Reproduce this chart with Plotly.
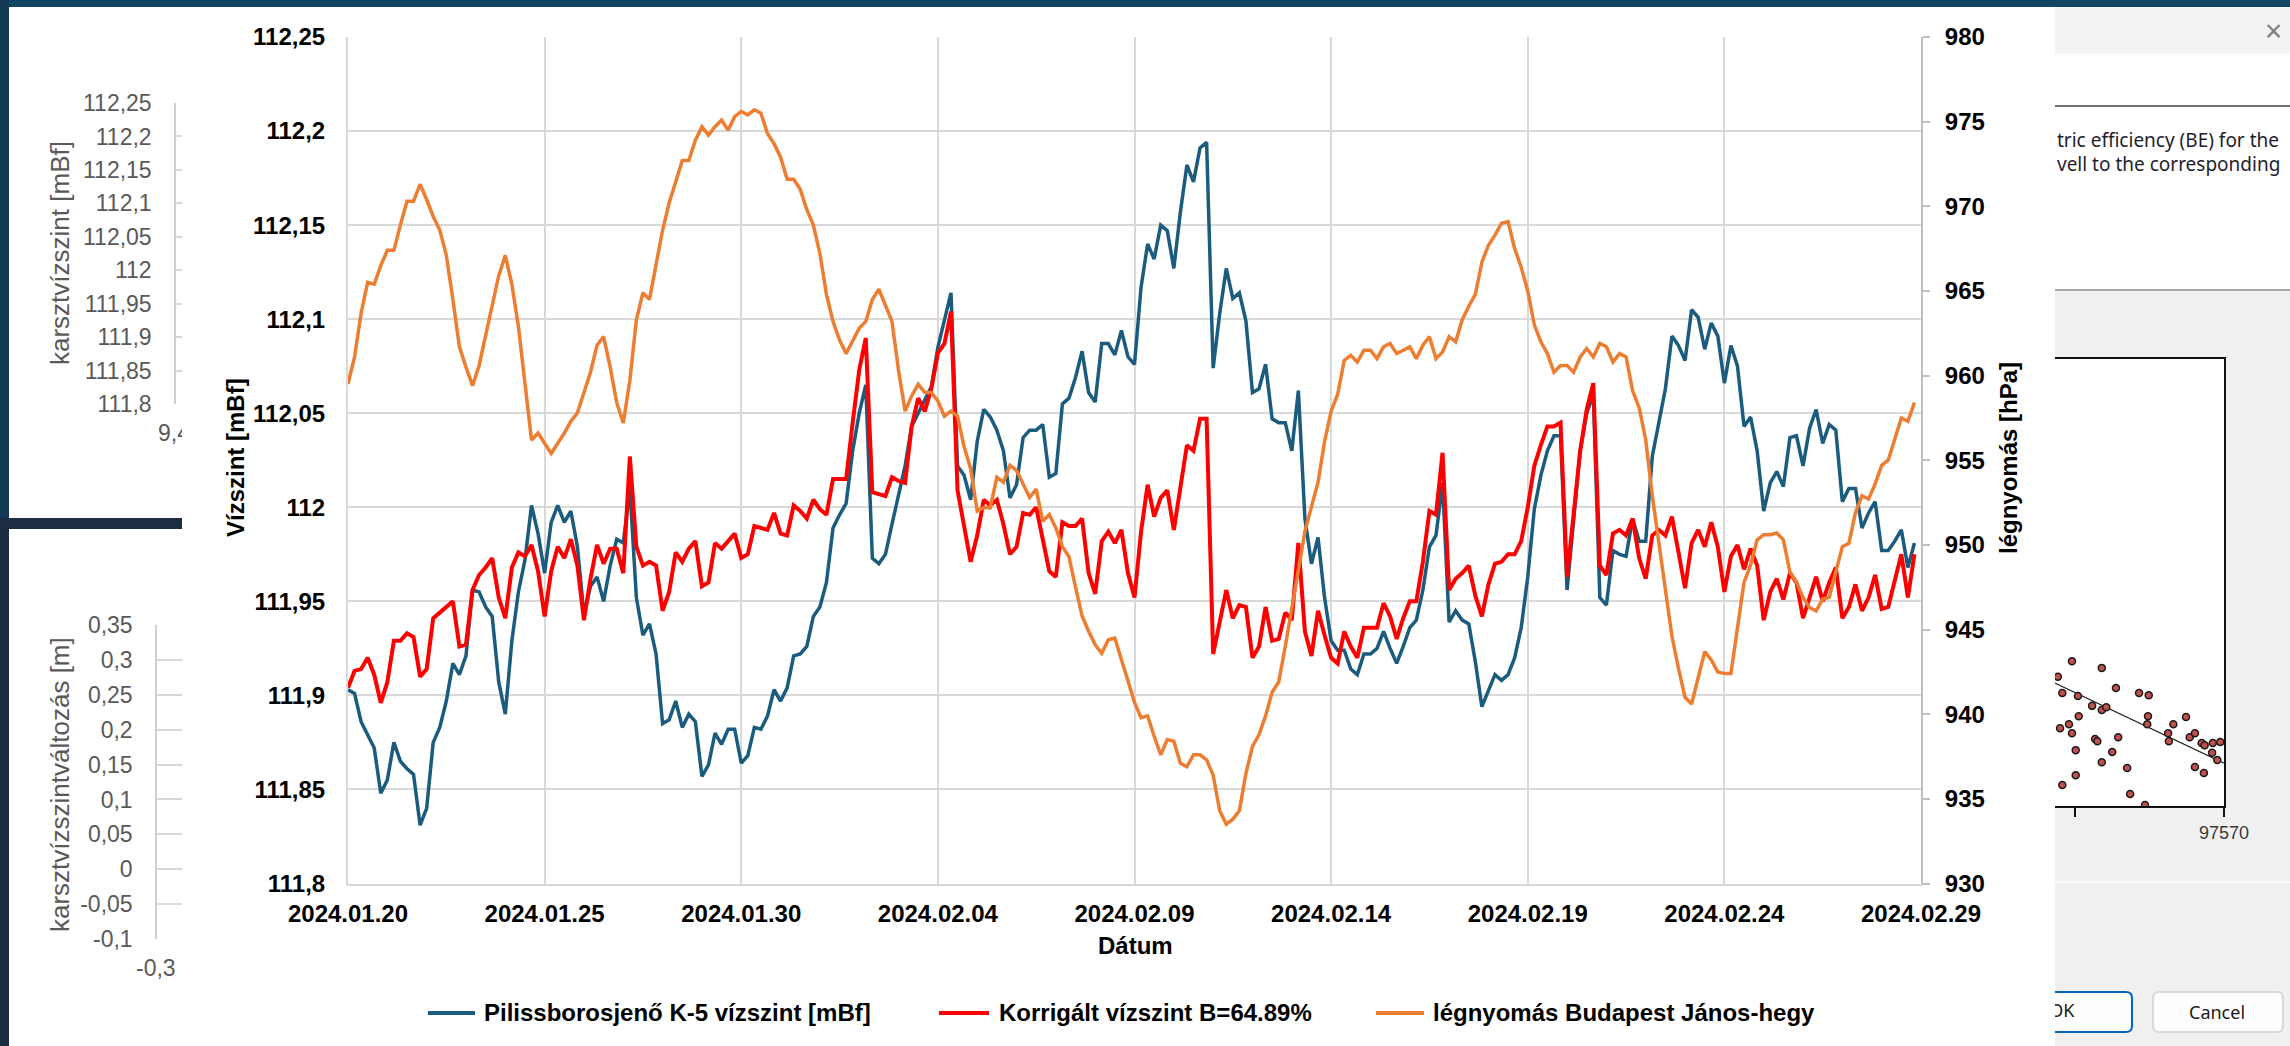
import pandas as pd
import plotly.graph_objects as go

W, H = 2290, 1046

# ---- data: 4-hourly series, 2024-01-20 00:00 onwards ----
start = "2024-01-20"
step = "4h"

level_k5 = [
    111.903, 111.901, 111.886, 111.879, 111.872, 111.848, 111.855, 111.875, 111.865, 111.861,
    111.858, 111.831, 111.840, 111.875, 111.883, 111.897, 111.917, 111.911, 111.921, 111.956,
    111.955, 111.947, 111.942, 111.907, 111.890, 111.929, 111.955, 111.972, 112.001, 111.986,
    111.965, 111.992, 112.001, 111.992, 111.998, 111.979, 111.943, 111.958, 111.963, 111.950,
    111.969, 111.983, 111.981, 112.010, 111.952, 111.932, 111.938, 111.922, 111.885, 111.887,
    111.897, 111.883, 111.890, 111.886, 111.857, 111.863, 111.880, 111.874, 111.882, 111.882,
    111.864, 111.868, 111.883, 111.882, 111.889, 111.903, 111.897, 111.904, 111.921, 111.922,
    111.926, 111.942, 111.947, 111.960, 111.989, 111.996, 112.002, 112.030, 112.050, 112.065,
    111.973, 111.970, 111.975, 111.991, 112.007, 112.022, 112.043, 112.050, 112.057, 112.064,
    112.085, 112.099, 112.114, 112.022, 112.017, 112.004, 112.035, 112.052, 112.048, 112.041,
    112.030, 112.005, 112.012, 112.037, 112.041, 112.041, 112.044, 112.016, 112.018, 112.055,
    112.058, 112.069, 112.083, 112.061, 112.056, 112.087, 112.087, 112.081, 112.094, 112.080,
    112.076, 112.117, 112.140, 112.132, 112.150, 112.147, 112.127, 112.157, 112.182, 112.173,
    112.191, 112.194, 112.074, 112.103, 112.127, 112.111, 112.114, 112.099, 112.061, 112.063,
    112.076, 112.047, 112.045, 112.045, 112.030, 112.062, 111.994, 111.970, 111.984, 111.952,
    111.929, 111.924, 111.924, 111.914, 111.911, 111.922, 111.922, 111.925, 111.934, 111.925,
    111.917, 111.926, 111.936, 111.940, 111.956, 111.979, 111.985, 112.013, 111.939, 111.945,
    111.940, 111.938, 111.918, 111.894, 111.903, 111.911, 111.908, 111.911, 111.920, 111.936,
    111.963, 111.999, 112.017, 112.030, 112.038, 112.038, 111.956, 111.995, 112.030, 112.050,
    112.060, 111.952, 111.948, 111.977, 111.975, 111.974, 111.994, 111.982, 111.982, 112.027,
    112.044, 112.063, 112.091, 112.086, 112.078, 112.105, 112.101, 112.084, 112.098, 112.091,
    112.066, 112.086, 112.075, 112.043, 112.048, 112.030, 111.998, 112.013, 112.019, 112.011,
    112.037, 112.038, 112.022, 112.042, 112.052, 112.034, 112.044, 112.041, 112.003, 112.010,
    112.010, 111.989, 111.997, 112.003, 111.977, 111.977, 111.982, 111.988, 111.968, 111.981,
]

level_corrected = [
    111.904, 111.913, 111.914, 111.920, 111.911, 111.896, 111.907, 111.929, 111.929, 111.933,
    111.931, 111.910, 111.914, 111.941, 111.944, 111.947, 111.950, 111.926, 111.927, 111.956,
    111.964, 111.968, 111.973, 111.952, 111.941, 111.968, 111.976, 111.974, 111.980, 111.966,
    111.942, 111.966, 111.979, 111.973, 111.983, 111.969, 111.940, 111.962, 111.980, 111.970,
    111.978, 111.978, 111.965, 112.027, 111.979, 111.969, 111.971, 111.969, 111.945, 111.955,
    111.976, 111.971, 111.978, 111.982, 111.958, 111.960, 111.981, 111.978, 111.982, 111.986,
    111.973, 111.975, 111.990, 111.989, 111.988, 111.997, 111.986, 111.985, 112.001, 111.998,
    111.994, 112.004, 111.999, 111.996, 112.015, 112.015, 112.015, 112.045, 112.073, 112.090,
    112.008, 112.007, 112.006, 112.016, 112.014, 112.013, 112.043, 112.058, 112.051, 112.063,
    112.082, 112.087, 112.104, 112.009, 111.991, 111.971, 111.985, 112.004, 112.001, 112.004,
    111.991, 111.975, 111.979, 111.997, 111.996, 112.000, 111.983, 111.966, 111.963, 111.992,
    111.990, 111.990, 111.994, 111.965, 111.954, 111.982, 111.987, 111.981, 111.988, 111.965,
    111.952, 111.987, 112.012, 111.995, 112.005, 112.009, 111.988, 112.009, 112.033, 112.030,
    112.047, 112.047, 111.922, 111.939, 111.956, 111.941, 111.948, 111.947, 111.920, 111.926,
    111.947, 111.929, 111.930, 111.944, 111.940, 111.981, 111.934, 111.921, 111.945, 111.932,
    111.920, 111.917, 111.934, 111.926, 111.920, 111.936, 111.936, 111.936, 111.949, 111.942,
    111.930, 111.941, 111.950, 111.950, 111.971, 111.998, 111.996, 112.029, 111.956, 111.962,
    111.965, 111.969, 111.953, 111.942, 111.959, 111.970, 111.971, 111.975, 111.975, 111.982,
    112.000, 112.022, 112.033, 112.043, 112.043, 112.045, 111.963, 111.998, 112.030, 112.052,
    112.066, 111.969, 111.964, 111.986, 111.988, 111.985, 111.994, 111.973, 111.962, 111.985,
    111.988, 111.985, 111.995, 111.976, 111.957, 111.981, 111.988, 111.979, 111.992, 111.979,
    111.955, 111.974, 111.980, 111.967, 111.978, 111.969, 111.940, 111.955, 111.962, 111.951,
    111.965, 111.960, 111.941, 111.952, 111.963, 111.950, 111.960, 111.968, 111.941, 111.947,
    111.959, 111.945, 111.952, 111.964, 111.946, 111.947, 111.960, 111.975, 111.952, 111.975,
]

pressure_hpa = [
    959.5, 961.1, 963.7, 965.5, 965.4, 966.5, 967.4, 967.4, 968.9, 970.3,
    970.3, 971.3, 970.4, 969.4, 968.6, 967.1, 964.5, 961.7, 960.5, 959.4,
    960.6, 962.4, 964.1, 965.9, 967.1, 965.4, 962.9, 959.7, 956.2, 956.6,
    956.0, 955.4, 956.0, 956.6, 957.3, 957.8, 959.0, 960.2, 961.8, 962.3,
    960.5, 958.4, 957.2, 959.7, 963.3, 964.9, 964.5, 966.5, 968.6, 970.2,
    971.5, 972.7, 972.7, 973.9, 974.7, 974.2, 974.7, 975.1, 974.5, 975.3,
    975.6, 975.4, 975.7, 975.5, 974.3, 973.7, 972.9, 971.6, 971.6, 971.0,
    969.8, 968.9, 967.2, 964.8, 963.2, 962.1, 961.3, 962.1, 962.8, 963.2,
    964.5, 965.1, 964.1, 963.2, 960.3, 957.9, 958.8, 959.5, 959.0, 959.0,
    958.5, 957.6, 957.9, 957.6, 955.8, 954.5, 952.0, 952.2, 952.2, 954.0,
    953.7, 954.7, 954.4, 953.6, 952.8, 953.3, 951.4, 951.8, 951.0, 949.9,
    949.3, 947.5, 945.8, 944.9, 944.1, 943.6, 944.4, 944.5, 943.2, 941.9,
    940.7, 939.8, 939.9, 938.7, 937.6, 938.5, 938.4, 937.1, 936.9, 937.6,
    937.6, 937.3, 936.4, 934.3, 933.5, 933.8, 934.3, 936.5, 938.1, 938.8,
    939.9, 941.3, 941.9, 944.0, 946.4, 948.5, 950.8, 952.3, 953.7, 956.1,
    957.9, 958.9, 960.9, 961.2, 960.8, 961.5, 961.5, 961.0, 961.7, 961.9,
    961.3, 961.5, 961.7, 961.0, 961.8, 962.3, 961.0, 961.4, 962.3, 962.0,
    963.3, 964.1, 964.8, 966.7, 967.7, 968.3, 969.0, 969.1, 967.5, 966.4,
    965.0, 963.0, 962.0, 961.3, 960.2, 960.6, 960.6, 960.2, 961.1, 961.6,
    961.1, 961.9, 961.7, 960.8, 961.3, 961.1, 959.1, 958.1, 956.2, 952.9,
    950.2, 947.5, 944.6, 942.7, 941.0, 940.6, 942.2, 943.7, 943.2, 942.5,
    942.4, 942.4, 945.1, 947.8, 948.8, 950.3, 950.6, 950.6, 950.7, 950.3,
    948.4, 947.8, 946.9, 946.3, 946.1, 946.8, 946.9, 948.5, 949.9, 950.1,
    951.9, 952.9, 952.7, 953.6, 954.7, 955.0, 956.2, 957.5, 957.3, 958.4,
]

series_names = [
    "Pilissborosjenő K-5 vízszint [mBf]",
    "Korrigált vízszint B=64.89%",
    "légnyomás Budapest János-hegy",
]
series_colors = ["#1b5c7e", "#ff0000", "#ed7d31"]

date_ticks = ["2024-01-20", "2024-01-25", "2024-01-30", "2024-02-04", "2024-02-09",
              "2024-02-14", "2024-02-19", "2024-02-24", "2024-02-29"]
date_labels = ["2024.01.20", "2024.01.25", "2024.01.30", "2024.02.04", "2024.02.09",
               "2024.02.14", "2024.02.19", "2024.02.24", "2024.02.29"]
level_ticks = [111.8, 111.85, 111.9, 111.95, 112.0, 112.05, 112.1, 112.15, 112.2, 112.25]
level_labels = ["111,8", "111,85", "111,9", "111,95", "112", "112,05", "112,1", "112,15", "112,2", "112,25"]
pressure_ticks = [930, 935, 940, 945, 950, 955, 960, 965, 970, 975, 980]

# side panels (karst water level charts)
karst_ticks = level_ticks
karst_labels = level_labels
change_ticks = [-0.1, -0.05, 0.0, 0.05, 0.1, 0.15, 0.2, 0.25, 0.3, 0.35]
change_labels = ["-0,1", "-0,05", "0", "0,05", "0,1", "0,15", "0,2", "0,25", "0,3", "0,35"]

# barometric-efficiency dialog scatter (pressure [Pa] vs. level [%])
be_pressure = [97547.7, 97549.6, 97553.6, 97548.3, 97550.4, 97555.5, 97558.6, 97559.9, 97552.3,
               97553.6, 97554.2, 97550.5, 97559.8, 97559.7, 97564.9, 97563.2, 97548.0, 97549.2,
               97549.6, 97552.7, 97553.0, 97555.8, 97562.5, 97562.6, 97565.4, 97566.1, 97567.0,
               97567.4, 97568.5, 97569.5, 97568.4, 97569.1, 97550.1, 97555.0, 97553.6, 97557.0,
               97566.1, 97567.3, 97550.1, 97548.3, 97557.4, 97559.4]
be_level = [28.9, 32.4, 30.9, 25.3, 24.6, 26.4, 25.3, 24.8, 22.4,
            21.5, 22.1, 20.1, 20.1, 18.3, 19.9, 18.3, 17.4, 18.3,
            16.3, 15.0, 14.5, 15.4, 16.3, 14.5, 15.4, 16.3, 14.1,
            13.6, 14.1, 14.3, 11.9, 10.3, 12.5, 12.1, 9.8, 8.5,
            8.7, 7.4, 6.9, 4.7, 2.7, 0.2]
be_fit_pressure = [97547.3, 97570.0]
be_fit_level = [27.5, 9.6]

times = pd.date_range(start, periods=len(level_k5), freq=step)

FONT = "Liberation Sans, Arial, sans-serif"
UI_FONT = "Noto Sans, Open Sans, sans-serif"
GRID = "#d9d9d9"
GREY_TXT = "#595959"


def px(x):
    return x / W


def py(y):
    return 1 - y / H


fig = go.Figure()

# main chart traces
fig.add_trace(go.Scatter(x=times, y=level_k5, mode="lines", name=series_names[0],
                         line=dict(color=series_colors[0], width=3.5), showlegend=False,
                         xaxis="x", yaxis="y"))
fig.add_trace(go.Scatter(x=times, y=level_corrected, mode="lines", name=series_names[1],
                         line=dict(color=series_colors[1], width=4), showlegend=False,
                         xaxis="x", yaxis="y"))
fig.add_trace(go.Scatter(x=times, y=pressure_hpa, mode="lines", name=series_names[2],
                         line=dict(color=series_colors[2], width=3.5), showlegend=False,
                         xaxis="x", yaxis="y2"))

# dialog scatter
fig.add_trace(go.Scatter(x=be_fit_pressure, y=be_fit_level, mode="lines",
                         line=dict(color="#222222", width=1.2), showlegend=False,
                         xaxis="x3", yaxis="y3", hoverinfo="skip"))
fig.add_trace(go.Scatter(x=be_pressure, y=be_level, mode="markers",
                         marker=dict(size=7, color="#c0504d", line=dict(color="#1a1a1a", width=1.5)),
                         showlegend=False, xaxis="x3", yaxis="y3", hoverinfo="skip"))

# side panels only show their axes; empty traces register the subplots
fig.add_trace(go.Scatter(x=[], y=[], showlegend=False, xaxis="x4", yaxis="y4"))
fig.add_trace(go.Scatter(x=[], y=[], showlegend=False, xaxis="x5", yaxis="y5"))

# labels that are partly covered by the chart window: clipped text in tiny subplots
fig.add_trace(go.Scatter(x=[0.09], y=[0.5], mode="text", text=["OK"], textposition="middle center",
                         textfont=dict(family=UI_FONT, size=18, color="#1a1a1a"),
                         cliponaxis=True, showlegend=False, hoverinfo="skip",
                         xaxis="x6", yaxis="y6"))
fig.add_trace(go.Scatter(x=[18], y=[0.5], mode="text", text=["9,4"], textposition="middle right",
                         textfont=dict(family=FONT, size=23, color=GREY_TXT),
                         cliponaxis=True, showlegend=False, hoverinfo="skip",
                         xaxis="x7", yaxis="y7"))

main_font = dict(family=FONT, size=24, color="#000000", weight="bold")
hidden = dict(visible=False, range=[0, 1], fixedrange=True)

layout = dict(
    width=W, height=H,
    margin=dict(l=0, r=0, t=0, b=0, autoexpand=False),
    paper_bgcolor="white", plot_bgcolor="white",
    showlegend=False,
    xaxis=dict(domain=[px(348), px(1921)], anchor="y",
               type="date", range=["2024-01-20", "2024-02-29"],
               tickvals=date_ticks, ticktext=date_labels,
               showgrid=True, gridcolor=GRID, gridwidth=2,
               showline=True, linecolor=GRID, linewidth=2,
               ticks="", tickfont=main_font, ticklabelstandoff=8,
               zeroline=False),
    yaxis=dict(domain=[py(883.5), py(37)], anchor="x",
               range=[111.8, 112.25], tickvals=level_ticks, ticktext=level_labels,
               showgrid=True, gridcolor=GRID, gridwidth=2,
               showline=True, linecolor=GRID, linewidth=2,
               ticks="", tickfont=main_font, ticklabelstandoff=16,
               zeroline=False),
    yaxis2=dict(overlaying="y", side="right", anchor="x",
                range=[930, 980], tickvals=pressure_ticks,
                showgrid=False, zeroline=False,
                showline=True, linecolor="#bfbfbf", linewidth=2,
                ticks="outside", ticklen=7, tickwidth=2, tickcolor="#bfbfbf",
                tickfont=main_font, ticklabelstandoff=10),
    # dialog inset
    xaxis3=dict(domain=[px(2055), px(2224)], anchor="y3",
                range=[97547.32, 97570], tickvals=[97550, 97570], ticktext=["", "97570"],
                showgrid=False, zeroline=False,
                showline=True, mirror=True, linecolor="#111111", linewidth=2,
                ticks="outside", ticklen=9, tickwidth=2, tickcolor="#111111",
                tickfont=dict(family=FONT, size=18, color="#3a3a3a")),
    yaxis3=dict(domain=[py(806), py(359)], anchor="x3", side="right",
                range=[0, 100], showgrid=False, zeroline=False,
                showline=True, linecolor="#111111", linewidth=2,
                showticklabels=False, ticks=""),
    # left side panels
    xaxis4=dict(domain=[px(176), px(182)], anchor="y4", range=[0, 1], visible=False),
    yaxis4=dict(domain=[py(404), py(103)], anchor="x4",
                range=[111.8, 112.25], tickvals=karst_ticks, ticktext=karst_labels,
                showgrid=True, gridcolor=GRID, gridwidth=1.5,
                showline=True, linecolor="#cfcfcf", linewidth=1.5, zeroline=False,
                ticks="", ticklabelstandoff=18,
                tickfont=dict(family=FONT, size=23, color=GREY_TXT)),
    xaxis5=dict(domain=[px(157), px(182)], anchor="y5", range=[0, 1], visible=False),
    yaxis5=dict(domain=[py(939), py(625)], anchor="x5",
                range=[-0.1, 0.35], tickvals=change_ticks, ticktext=change_labels,
                showgrid=True, gridcolor=GRID, gridwidth=1.5,
                showline=True, linecolor="#cfcfcf", linewidth=1.5, zeroline=False,
                ticks="", ticklabelstandoff=18,
                tickfont=dict(family=FONT, size=23, color=GREY_TXT)),
    # clipping boxes for partly hidden labels
    xaxis6=dict(domain=[px(2055), px(2130)], anchor="y6", **hidden),
    yaxis6=dict(domain=[py(1031), py(994)], anchor="x6", **hidden),
    xaxis7=dict(domain=[px(140), px(182)], anchor="y7", visible=False, range=[0, 42]),
    yaxis7=dict(domain=[py(452), py(418)], anchor="x7", **hidden),
)

shapes = []


def rect(x0, y0, x1, y1, fill, line_color=None, line_width=0):
    shapes.append(dict(type="rect", xref="paper", yref="paper", layer="below",
                       x0=px(x0), x1=px(x1), y0=py(y1), y1=py(y0),
                       fillcolor=fill,
                       line=dict(color=line_color or fill, width=line_width)))


def hline(x0, x1, y, color, width, layer="below"):
    shapes.append(dict(type="line", xref="paper", yref="paper", layer=layer,
                       x0=px(x0), x1=px(x1), y0=py(y), y1=py(y),
                       line=dict(color=color, width=width)))


# window chrome
rect(0, 0, W, 7, "#134560")
rect(0, 0, 9, 529, "#163a53")
rect(0, 529, 9, H, "#1c2a42")
rect(0, 518, 182, 529, "#1c2c43")

# dialog window on the right
rect(2055, 7, W, H, "#f0f0f0")
rect(2055, 7, W, 54, "#f3f3f3")
rect(2055, 54, W, 290, "#ffffff")
hline(2055, W, 106, "#3c3c3c", 1.5)
hline(2055, W, 290, "#a6a6a6", 2)
rect(2055, 359, 2224, 806, "#ffffff")
hline(2055, W, 882, "#fbfbfb", 2)

# OK button (left part hidden behind the chart)
ok_path = ("M {a},{t} L {b},{t} Q {r},{t} {r},{t2} L {r},{b2} Q {r},{bt} {b},{bt} L {a},{bt}"
           .format(a=px(2055), b=px(2126), r=px(2132), t=py(992), t2=py(998),
                   b2=py(1026), bt=py(1032)))
shapes.append(dict(type="path", xref="paper", yref="paper", layer="below", path=ok_path,
                   fillcolor="#fdfdfd", line=dict(color="#0067c0", width=2)))
# Cancel button
c_path = ("M {l2},{t} L {r2},{t} Q {r},{t} {r},{t2} L {r},{b2} Q {r},{b} {r2},{b} "
          "L {l2},{b} Q {l},{b} {l},{b2} L {l},{t2} Q {l},{t} {l2},{t} Z"
          .format(l=px(2153), l2=px(2159), r=px(2283), r2=px(2277),
                  t=py(992), t2=py(998), b=py(1032), b2=py(1026)))
shapes.append(dict(type="path", xref="paper", yref="paper", layer="below", path=c_path,
                   fillcolor="#fdfdfd", line=dict(color="#d0d0d0", width=1.5)))

# legend line samples
legend_lines = [(428, 475), (939, 989), (1376, 1424)]
for (x0, x1), col in zip(legend_lines, series_colors):
    hline(x0, x1, 1013, col, 4, layer="above")

layout["shapes"] = shapes

ann = []


def text(x, y, s, size, color="#000000", bold=False, angle=0, xanchor="center",
         family=FONT):
    ann.append(dict(x=px(x), y=py(y), xref="paper", yref="paper", text=s,
                    showarrow=False, textangle=angle, xanchor=xanchor, yanchor="middle",
                    font=dict(family=family, size=size, color=color,
                              weight="bold" if bold else "normal")))


# main chart titles
text(235, 458, "Vízszint [mBf]", 24, bold=True, angle=-90)
text(2008, 458, "légnyomás [hPa]", 24, bold=True, angle=-90)
text(1135, 945, "Dátum", 24, bold=True)

# legend labels
legend_text_x = [482, 997, 1431]
for x, name in zip(legend_text_x, series_names):
    text(x, 1012, name, 24, bold=True, xanchor="left")

# side panels
text(60, 253, "karsztvízszint [mBf]", 26, color=GREY_TXT, angle=-90)
text(60, 785, "karsztvízszintváltozás [m]", 26, color=GREY_TXT, angle=-90)
text(178, 968, "-0,3", 23, color=GREY_TXT, xanchor="right")

# dialog texts
text(2055, 140, "tric efficiency (BE) for the", 19, color="#1e1e2e", xanchor="left", family=UI_FONT)
text(2055, 164, "vell to the corresponding", 19, color="#1e1e2e", xanchor="left", family=UI_FONT)
text(2273, 31, "×", 30, color="#808080", family=UI_FONT)
text(2217, 1012, "Cancel", 18, color="#1a1a1a", family=UI_FONT)

layout["annotations"] = ann

fig.update_layout(layout)
fig.write_html("out.html")
